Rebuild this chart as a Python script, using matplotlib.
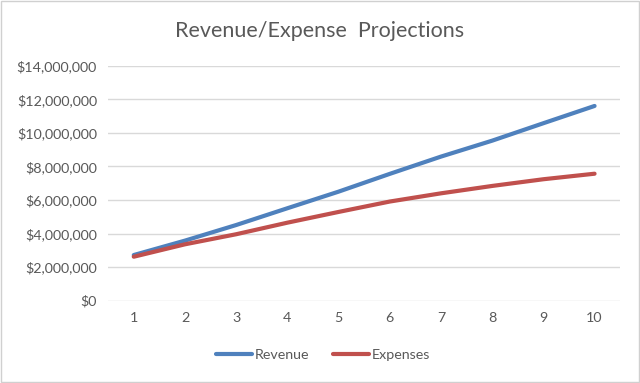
import matplotlib.pyplot as plt
from matplotlib.ticker import FuncFormatter

years = [1, 2, 3, 4, 5, 6, 7, 8, 9, 10]
revenue = [2720000, 3580000, 4510000, 5510000, 6500000, 7560000, 8590000, 9540000, 10580000, 11610000]
expenses = [2620000, 3360000, 3960000, 4650000, 5290000, 5910000, 6400000, 6840000, 7240000, 7570000]

plt.rcParams['font.family'] = ['Lato', 'DejaVu Sans']
grey = '#595959'

fig = plt.figure(figsize=(6.4, 3.83), dpi=100)
ax = fig.add_axes([0.169, 0.215, 0.8, 0.613])

ax.plot(years, revenue, color='#4F81BD', lw=3, label='Revenue', solid_capstyle='round')
ax.plot(years, expenses, color='#C0504D', lw=3, label='Expenses', solid_capstyle='round')

ax.set_xlim(0.5, 10.5)
ax.set_ylim(0, 14000000)
ax.set_xticks(years)
ax.set_yticks(range(0, 14000001, 2000000))
ax.yaxis.set_major_formatter(FuncFormatter(lambda v, p: f"${v:,.0f}"))
ax.grid(axis='y', color='#D9D9D9', lw=1)
ax.set_axisbelow(True)
for s in ax.spines.values():
    s.set_visible(False)
ax.tick_params(length=0, labelsize=10.3, colors=grey, pad=8)

fig.text(0.5, 0.918, "Revenue/Expense  Projections", fontsize=15.5, color=grey,
         ha='center', va='center')

fig.legend(loc='center', bbox_to_anchor=(0.505, 0.073), ncol=2, frameon=False,
           fontsize=10.3, labelcolor=grey, handlelength=2.5, handletextpad=0.2,
           columnspacing=1.7)

# light frame around the chart area
fig.patches.append(plt.Rectangle((0.002, 0.003), 0.996, 0.994, transform=fig.transFigure,
                                 fill=False, edgecolor='#D0D0D0', lw=1))

plt.savefig('out.png', dpi=100)
